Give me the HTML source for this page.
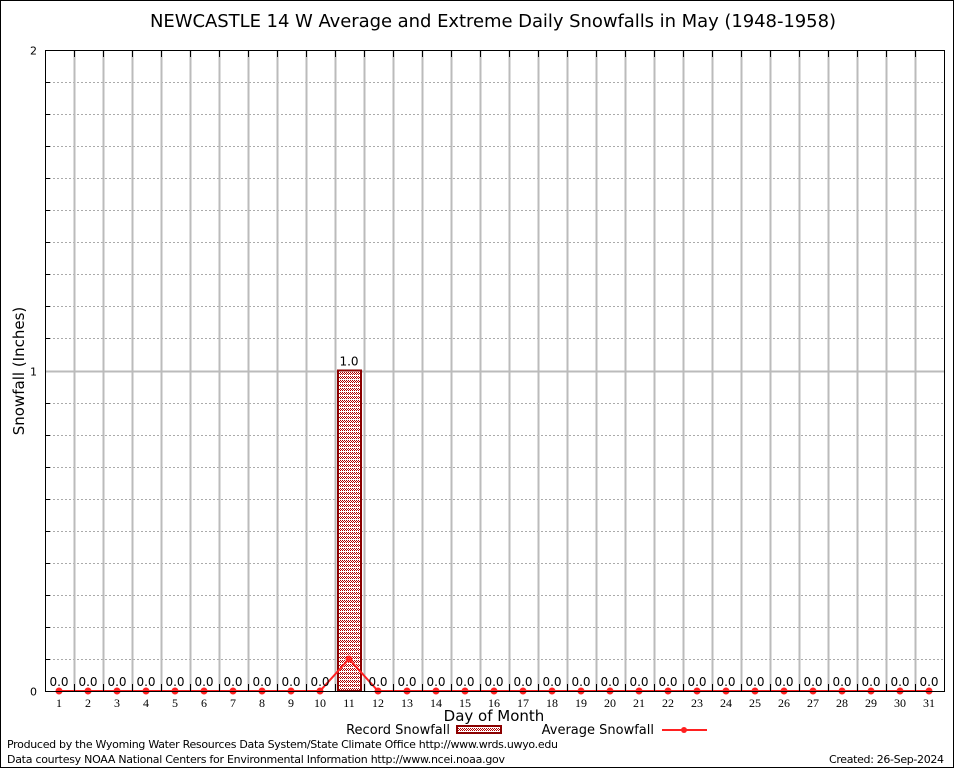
<!DOCTYPE html>
<html><head><meta charset="utf-8"><style>
html,body{margin:0;padding:0;background:#fff}
svg{display:block;font-family:"DejaVu Sans","Liberation Sans",sans-serif}
</style></head><body>
<svg id="chart" width="954" height="768" viewBox="0 0 954 768" xmlns="http://www.w3.org/2000/svg">
<defs>
<pattern id="hatch" width="4" height="4" patternUnits="userSpaceOnUse">
<rect width="4" height="4" fill="#fff"/>
<rect x="0" y="0" width="1" height="1" fill="#b00000"/><rect x="2" y="0" width="1" height="1" fill="#b00000"/><rect x="1" y="1" width="1" height="1" fill="#b00000"/><rect x="3" y="1" width="1" height="1" fill="#b00000"/><rect x="0" y="2" width="1" height="1" fill="#b00000"/><rect x="2" y="2" width="1" height="1" fill="#b00000"/>
</pattern>
</defs>
<rect x="0.5" y="0.5" width="953" height="767" fill="#fff" stroke="#000"/>
<text x="493" y="27" font-size="18" text-anchor="middle" textLength="686">NEWCASTLE 14 W Average and Extreme Daily Snowfalls in May (1948-1958)</text>
<g id="grid"></g>
<g id="bars"></g>
<g id="avg"></g>
<g id="labels"></g>
<rect x="45.5" y="50.5" width="899" height="641" fill="none" stroke="#000"/>
<g id="axes"></g>
<text transform="translate(24,371) rotate(-90)" font-size="15" text-anchor="middle">Snowfall (Inches)</text>
<text x="494" y="721" font-size="15" text-anchor="middle">Day of Month</text>
<g>
<text x="450" y="734" font-size="13" text-anchor="end">Record Snowfall</text>
<rect x="457" y="726" width="44" height="7" fill="url(#hatch)" stroke="#8b0000" stroke-width="2"/>
</g>
<g>
<text x="654" y="734" font-size="13" text-anchor="end">Average Snowfall</text>
<line x1="662" y1="730" x2="707" y2="730" stroke="#ff2020" stroke-width="2"/>
<circle cx="684" cy="730" r="3" fill="#ff2020"/>
</g>
<text x="7" y="748" font-size="11" textLength="551">Produced by the Wyoming Water Resources Data System/State Climate Office http://www.wrds.uwyo.edu</text>
<text x="7" y="763" font-size="11" textLength="498">Data courtesy NOAA National Centers for Environmental Information http://www.ncei.noaa.gov</text>
<text x="944" y="763" font-size="11" text-anchor="end" textLength="115">Created: 26-Sep-2024</text>
</svg>
<script>
const days = [1,2,3,4,5,6,7,8,9,10,11,12,13,14,15,16,17,18,19,20,21,22,23,24,25,26,27,28,29,30,31];
const recordValues = [0,0,0,0,0,0,0,0,0,0,1.0,0,0,0,0,0,0,0,0,0,0,0,0,0,0,0,0,0,0,0,0];
const averageValues = [0,0,0,0,0,0,0,0,0,0,0.1,0,0,0,0,0,0,0,0,0,0,0,0,0,0,0,0,0,0,0,0];
const yTicks = [0,1,2];
const NS="http://www.w3.org/2000/svg";
const L=45,R=944,T=50,B=691,YMAX=2;
const xs=d=>59+(d-1)*29;
const ys=v=>B-(v/YMAX)*(B-T);
function mk(tag,attrs,parent,txt){const e=document.createElementNS(NS,tag);for(const k in attrs)e.setAttribute(k,attrs[k]);if(txt!==undefined)e.textContent=txt;document.getElementById(parent).appendChild(e);return e;}
for(let i=1;i<20;i++){const v=i*0.1;if(i%10===0)continue;const y=Math.round(ys(v))+0.5;
const e=mk('line',{x1:L,x2:R,y1:y,y2:y,stroke:'#aaa','stroke-dasharray':'2,2'},'grid');


const t=mk('line',{x1:L,x2:L+5,y1:y,y2:y,stroke:'#000'},'axes');

}
for(let i=0;i<days.length-1;i++){const x=Math.round(xs(days[i])+14.5)+0.5;
const e=mk('line',{x1:x,x2:x,y1:T,y2:B,stroke:'#bbb','stroke-width':2},'grid');


const t1=mk('line',{x1:x,x2:x,y1:T,y2:T+7,stroke:'#000'},'axes');


const t2=mk('line',{x1:x,x2:x,y1:B-7,y2:B,stroke:'#000'},'axes');

}
yTicks.forEach(v=>{const y=Math.round(ys(v))+0.5;
if(v>0&&v<YMAX){const e=mk('line',{x1:L,x2:R,y1:y,y2:y,stroke:'#bbb','stroke-width':2},'grid');

}
const t=mk('text',{x:37,y:y+4,'font-size':11,'text-anchor':'end'},'axes',String(v));

});
days.forEach((d,i)=>{const v=recordValues[i];
if(v>0){const b=mk('rect',{x:xs(d)-11,y:ys(v),width:23,height:B-ys(v),fill:'url(#hatch)',stroke:'#8b0000','stroke-width':2},'bars');

}
const t=mk('text',{x:xs(d),y:ys(v)-5,'font-size':12,'text-anchor':'middle'},'labels',v.toFixed(1));


const dl=mk('text',{x:xs(d),y:707,'font-size':12,'text-anchor':'middle','font-family':'Liberation Serif, serif'},'axes',String(d));

});
const pts=days.map((d,i)=>xs(d)+','+ys(averageValues[i])).join(' ');
const pl=mk('polyline',{points:pts,fill:'none',stroke:'#ff2020','stroke-width':2},'avg');


days.forEach((d,i)=>{const c=mk('circle',{cx:xs(d),cy:ys(averageValues[i]),r:3.5,fill:'#ff2020'},'avg');

});
</script>
</body></html>
